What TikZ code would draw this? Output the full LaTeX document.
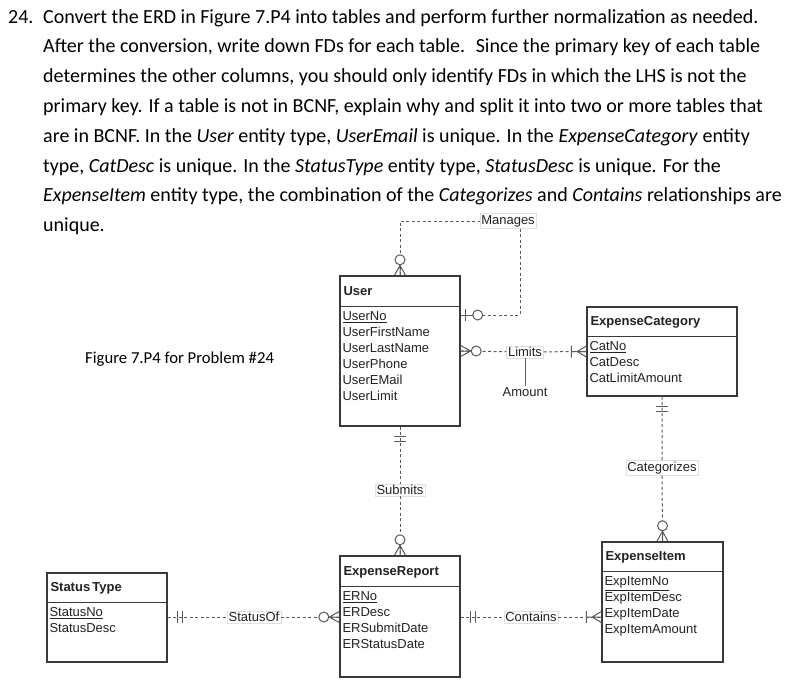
\documentclass[tikz,border=0pt]{standalone}
\usepackage{fontspec}
\setmainfont{Carlito}
\newfontfamily\erfont{Liberation Sans}
\usetikzlibrary{positioning}

\definecolor{boxgray}{HTML}{3A3A3A}
\definecolor{linegray}{HTML}{5A5A5A}
\definecolor{textdark}{HTML}{222222}

\tikzset{
  paraline/.style={font=\fontsize{20}{24}\selectfont, anchor=base west, inner sep=0pt},
  caption/.style={font=\fontsize{16.7}{20}\selectfont, anchor=base west, inner sep=0pt},
  entline/.style={draw=boxgray, line width=1.4pt},
  entity/.style={entline, inner sep=0pt},
  enttitle/.style={font=\erfont\bfseries\fontsize{13}{16}\selectfont, anchor=base west, inner sep=0pt, text=textdark},
  attr/.style={font=\erfont\fontsize{13}{16}\selectfont, anchor=base west, inner sep=0pt, text=textdark},
  rel/.style={draw=linegray, line width=1pt, dash pattern=on 3pt off 2.5pt},
  rellabel/.style={font=\erfont\fontsize{13}{16}\selectfont, fill=white, draw=black!12, inner sep=1.5pt, text=textdark},
  % crow's foot ends, drawn pointing away from the entity along +x
  onlyone/.pic={\draw[linegray, line width=1pt] (10,-6) -- (10,6) (15,-6) -- (15,6);},
  zeroone/.pic={\draw[linegray, line width=1pt] (0,0) -- (12,0) (5,-6) -- (5,6);
    \draw[linegray, line width=1pt, fill=white] (17,0) circle[radius=5pt];},
  zeromany/.pic={\draw[linegray, line width=1pt] (0,-5.5) -- (10,0) -- (0,5.5) (0,0) -- (10,0);
    \draw[linegray, line width=1pt, fill=white] (15.5,0) circle[radius=5pt];},
  onemany/.pic={\draw[linegray, line width=1pt] (0,-5.5) -- (9,0) -- (0,5.5) (0,0) -- (15,0) (15,-6) -- (15,6);},
}

\begin{document}
\begin{tikzpicture}[x=1pt, y=-1pt]
  \useasboundingbox (0,0) rectangle (801,694);
  \fill[white] (0,0) rectangle (801,694);

  % problem text
  \node[paraline] (num) at (8,23) {24.};
  \foreach \t [count=\i from 0] in {%
      {Convert the ERD in Figure 7.P4 into tables and perform further normalization as needed.},
      {After the conversion, write down FDs for each table.~ Since the primary key of each table},
      {determines the other columns, you should only identify FDs in which the LHS is not the},
      {primary key. If a table is not in BCNF, explain why and split it into two or more tables that},
      {are in BCNF. In the \textit{User} entity type, \textit{UserEmail} is unique. In the \textit{ExpenseCategory} entity},
      {type, \textit{CatDesc} is unique. In the \textit{StatusType} entity type, \textit{StatusDesc} is unique. For the},
      {\textit{ExpenseItem} entity type, the combination of the \textit{Categorizes} and \textit{Contains} relationships are},
      {unique.}}
    \node[paraline] (line\i) at (43,23+29.8*\i) {\t};

  \node[caption] (fig) at (85,363) {Figure 7.P4 for Problem \#24};

  % User
  \node[entity, minimum width=120pt, minimum height=150pt] (user) at (400,351) {};
  \draw[entline] ([shift={(0,31)}]user.north west) -- ([shift={(0,31)}]user.north east);
  \node[enttitle] (user-t) at ([shift={(4,20)}]user.north west) {User};
  \foreach \a [count=\i from 0] in {\underline{UserNo}, UserFirstName, UserLastName, UserPhone, UserEMail, UserLimit}
    \node[attr] (user-a\i) at ([shift={(3,45.5+16*\i)}]user.north west) {\a};

  % ExpenseCategory
  \node[entity, minimum width=150pt, minimum height=89pt] (cat) at (662,351.5) {};
  \draw[entline] ([shift={(0,30)}]cat.north west) -- ([shift={(0,30)}]cat.north east);
  \node[enttitle] (cat-t) at ([shift={(4,19)}]cat.north west) {ExpenseCategory};
  \foreach \a [count=\i from 0] in {\underline{CatNo}, CatDesc, CatLimitAmount}
    \node[attr] (cat-a\i) at ([shift={(3,44.5+16*\i)}]cat.north west) {\a};

  % ExpenseReport
  \node[entity, minimum width=120pt, minimum height=121pt] (report) at (400,616.5) {};
  \draw[entline] ([shift={(0,31)}]report.north west) -- ([shift={(0,31)}]report.north east);
  \node[enttitle] (report-t) at ([shift={(4,20)}]report.north west) {ExpenseReport};
  \foreach \a [count=\i from 0] in {\underline{ERNo}, ERDesc, ERSubmitDate, ERStatusDate}
    \node[attr] (report-a\i) at ([shift={(3,45.5+16*\i)}]report.north west) {\a};

  % StatusType
  \node[entity, minimum width=120pt, minimum height=89pt] (status) at (107,617.5) {};
  \draw[entline] ([shift={(0,30)}]status.north west) -- ([shift={(0,30)}]status.north east);
  \node[enttitle] (status-t) at ([shift={(4,19)}]status.north west) {Status\,Type};
  \foreach \a [count=\i from 0] in {\underline{StatusNo}, StatusDesc}
    \node[attr] (status-a\i) at ([shift={(3,44.5+16*\i)}]status.north west) {\a};

  % ExpenseItem
  \node[entity, minimum width=121pt, minimum height=120pt] (item) at (662.5,602) {};
  \draw[entline] ([shift={(0,30)}]item.north west) -- ([shift={(0,30)}]item.north east);
  \node[enttitle] (item-t) at ([shift={(4,19)}]item.north west) {ExpenseItem};
  \foreach \a [count=\i from 0] in {\underline{ExpItemNo}, ExpItemDesc, ExpItemDate, ExpItemAmount}
    \node[attr] (item-a\i) at ([shift={(3,44.5+16*\i)}]item.north west) {\a};

  % relationships
  \node[rellabel] (manages) at (508,221) {Manages};
  \node[rellabel] (limits) at (525,352) {Limits};
  \node[rellabel, draw=none, fill=none] (amount) at (525,392) {Amount};
  \node[rellabel] (categorizes) at (662,468) {Categorizes};
  \node[rellabel] (submits) at (400,490) {Submits};
  \node[rellabel] (statusof) at (254,617) {StatusOf};
  \node[rellabel] (contains) at (531,617) {Contains};

  \coordinate (mg-end) at ([shift={(0,-36)}]user.east);
  \draw[rel] (user.north) |- (manages);
  \draw[rel] ([xshift=12pt]manages.south) |- (mg-end);
  \draw[rel] (user.east) -- (limits) -- (cat.west);
  \draw[linegray, line width=1pt] (limits) -- (amount);
  \draw[rel] (cat.south) -- (categorizes) -- (item.north);
  \draw[rel] (user.south) -- (submits) -- (report.north);
  \draw[rel] (statusof -| status.east) -- (statusof) -- (statusof -| report.west);
  \draw[rel] (contains -| report.east) -- (contains) -- (contains -| item.west);

  \pic[rotate=90] at (user.north) {zeromany};
  \pic at (mg-end) {zeroone};
  \pic at (user.east) {zeromany};
  \pic[rotate=180] at (cat.west) {onemany};
  \pic[rotate=-90] at (cat.south) {onlyone};
  \pic[rotate=90] at (item.north) {zeromany};
  \pic[rotate=-90] at (user.south) {onlyone};
  \pic[rotate=90] at (report.north) {zeromany};
  \pic at (statusof -| status.east) {onlyone};
  \pic[rotate=180] at (statusof -| report.west) {zeromany};
  \pic at (contains -| report.east) {onlyone};
  \pic[rotate=180] at (contains -| item.west) {onemany};
\end{tikzpicture}
\end{document}
